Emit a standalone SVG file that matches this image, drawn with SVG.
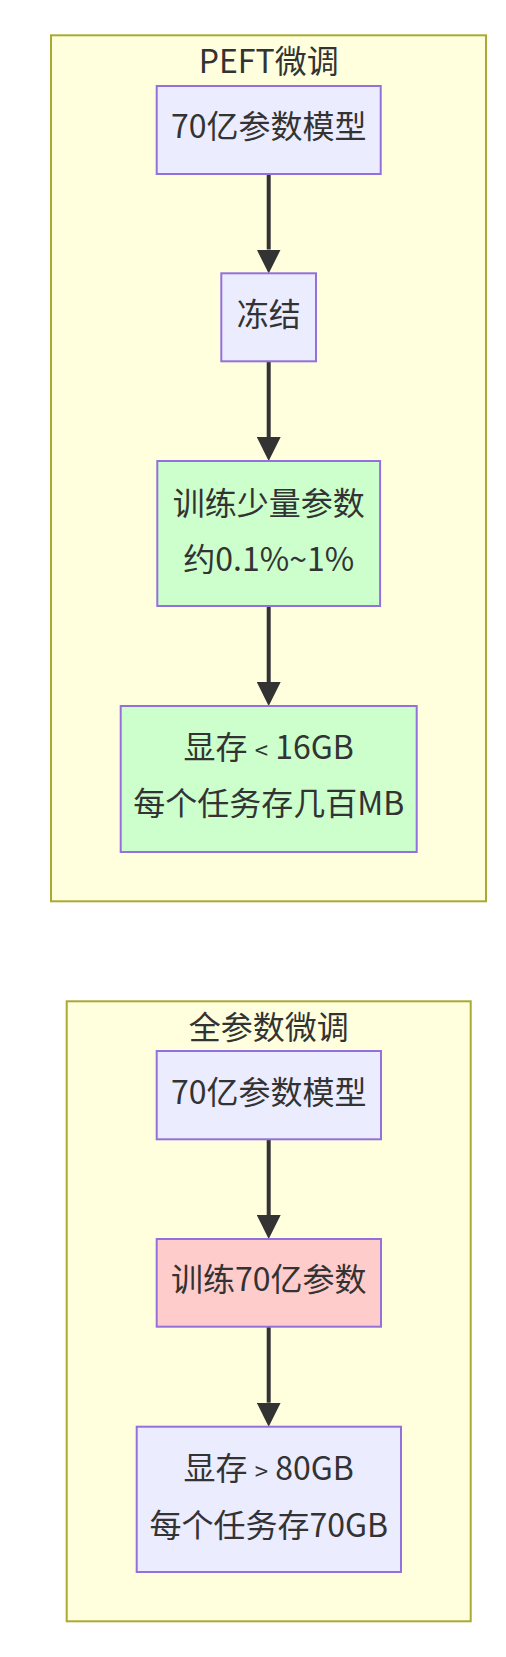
<svg xmlns="http://www.w3.org/2000/svg" width="506" height="1657" viewBox="0 0 506 1657">
<style>
.cluster{fill:#ffffde;stroke:#aaaa33;stroke-width:2}
.node{fill:#ECECFF;stroke:#9370DB;stroke-width:2}
.green{fill:#ccffcc}
.red{fill:#ffcccc}
text{font-family:"Noto Sans CJK SC","Noto Sans",sans-serif;font-size:32px;fill:#333333;text-anchor:middle}
.sym{font-size:24px}
.edge{stroke:#333333;stroke-width:4;fill:none}
</style>
<defs>
<marker id="arrow" markerUnits="userSpaceOnUse" markerWidth="24" markerHeight="24" refX="0" refY="12" orient="auto" viewBox="0 0 24 24">
<path d="M0,0 L24,12 L0,24 z" fill="#333333"/>
</marker>
</defs>
<g id="cluster-peft">
<rect class="cluster" x="51" y="35.3" width="435" height="866"/>
<text x="268.7" y="73">PEFT微调</text>
</g>
<g id="cluster-full">
<rect class="cluster" x="66.7" y="1001.3" width="404" height="620"/>
<text x="268.7" y="1039">全参数微调</text>
</g>
<g id="edges">
<line class="edge" x1="268.7" y1="174" x2="268.7" y2="249.5" marker-end="url(#arrow)"/>
<line class="edge" x1="268.7" y1="361.3" x2="268.7" y2="437" marker-end="url(#arrow)"/>
<line class="edge" x1="268.7" y1="606" x2="268.7" y2="682" marker-end="url(#arrow)"/>
<line class="edge" x1="268.7" y1="1139.3" x2="268.7" y2="1215" marker-end="url(#arrow)"/>
<line class="edge" x1="268.7" y1="1326.7" x2="268.7" y2="1402.7" marker-end="url(#arrow)"/>
</g>
<g id="node-p1">
<rect class="node" x="156.7" y="86" width="224" height="88"/>
<text x="268.7" y="138">70亿参数模型</text>
</g>
<g id="node-p2">
<rect class="node" x="221.3" y="273.3" width="94.7" height="88"/>
<text x="268.7" y="325.5">冻结</text>
</g>
<g id="node-p3">
<rect class="node green" x="157.3" y="461" width="222.8" height="145"/>
<text x="268.7" y="515">训练少量参数</text>
<text x="268.7" y="571">约0.1%~1%</text>
</g>
<g id="node-p4">
<rect class="node green" x="120.7" y="706" width="296" height="146"/>
<text x="268.7" y="759">显存 <tspan class="sym">&lt;</tspan> 16GB</text>
<text x="268.7" y="815">每个任务存几百MB</text>
</g>
<g id="node-f1">
<rect class="node" x="156.7" y="1051" width="224.3" height="88.3"/>
<text x="268.7" y="1103.5">70亿参数模型</text>
</g>
<g id="node-f2">
<rect class="node red" x="156.7" y="1239" width="224.3" height="87.7"/>
<text x="268.7" y="1291">训练70亿参数</text>
</g>
<g id="node-f3">
<rect class="node" x="136.7" y="1426.7" width="264.3" height="145.3"/>
<text x="268.7" y="1479.5">显存 <tspan class="sym">&gt;</tspan> 80GB</text>
<text x="268.7" y="1537.3">每个任务存70GB</text>
</g>
</svg>
